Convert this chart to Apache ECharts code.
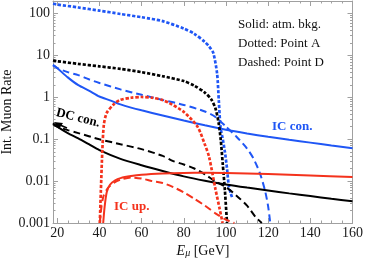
<!DOCTYPE html>
<html><head><meta charset="utf-8">
<script src="https://cdn.jsdelivr.net/npm/echarts@6/dist/echarts.min.js"></script>
<style>html,body{margin:0;padding:0;background:#fff}#c{width:366px;height:263px}</style>
</head><body><div id="c"></div>
<script>
// ---- axis ticks ----
const xTickLabels = [20, 40, 60, 80, 100, 120, 140, 160];
const xMinorTicks = [25,30,35,45,50,55,65,70,75,85,90,95,105,110,115,125,130,135,145,150,155];
const yTickLabels = [0.001, 0.01, 0.1, 1, 10, 100];
const yMinorTicks = [0.002,0.003,0.004,0.005,0.006,0.007,0.008,0.009,
  0.02,0.03,0.04,0.05,0.06,0.07,0.08,0.09,
  0.2,0.3,0.4,0.5,0.6,0.7,0.8,0.9,
  2,3,4,5,6,7,8,9, 20,30,40,50,60,70,80,90];

// ---- IC (blue) ----
const icAtmE    = [18,20,25,30,35,40,45,50,55,60,70,80,90,100,110,120,130,140,150,160];
const icAtmRate = [6.0,5.0,3.0,1.95,1.45,1.05,0.85,0.68,0.57,0.49,0.37,0.28,0.215,0.168,0.137,0.114,0.097,0.083,0.071,0.061];
const icAE      = [18,20,30,40,50,60,70,80,85,90,92,94,95.8,96.6,97.4,98.5,99.5,100.5,101.3,102.3,103];
const icARate   = [172,165,140,118,98,82,66,44,33,21,16.5,11.5,3.7,0.86,0.2,0.1,0.05,0.02,0.008,0.005,0.004];
const icDE      = [18,20,25,30,35,40,50,60,70,80,90,95,100,105,110,113,116,118.5,120,121];
const icDRate   = [5.8,5.0,4.0,3.4,2.7,2.2,1.55,1.15,0.87,0.66,0.46,0.34,0.2,0.115,0.06,0.035,0.016,0.006,0.0025,0.001];

// ---- DC (black) ----
const dcAtmE    = [18,20,25,30,35,40,50,60,70,80,90,100,110,120,130,140,150,160];
const dcAtmRate = [0.24,0.2,0.14,0.105,0.076,0.055,0.034,0.024,0.0175,0.013,0.0102,0.0083,0.007,0.006,0.0051,0.0044,0.0038,0.0033];
const dcAE      = [18,20,30,40,50,60,70,80,85,90,93,95,96.5,97.5,98.5,99.5,100.5];
const dcARate   = [7.6,7.3,6.3,5.5,4.8,4.0,3.2,2.45,1.9,1.3,0.9,0.55,0.25,0.1,0.025,0.006,0.001];
const dcDE      = [18,20,25,30,40,50,60,70,75,80,85,90,95,100,105,110,114,117];
const dcDRate   = [0.23,0.2,0.165,0.14,0.1,0.076,0.058,0.04,0.03,0.025,0.02,0.0145,0.0098,0.0072,0.0045,0.0026,0.0014,0.001];

// ---- IC up (red) ----
const upAtmE    = [41.8,42.5,43.5,45,47.5,50,55,60,70,80,90,100,120,140,160];
const upAtmRate = [0.001,0.0025,0.0055,0.0082,0.0105,0.0118,0.0132,0.0142,0.0152,0.0157,0.0158,0.0157,0.0148,0.0136,0.0125];
const upAE      = [40.2,40.7,41.4,42.1,43.4,46.5,49.6,55,60,65,70,73,80,86.5,90,92,95,97,98.4];
const upARate   = [0.001,0.006,0.056,0.22,0.42,0.66,0.86,0.98,1.02,0.98,0.86,0.74,0.45,0.2,0.075,0.038,0.0065,0.0022,0.001];
const upDE      = [40.2,41,42,44,47,50,55,60,65,70,75,80,85,90,95,100,104];
const upDRate   = [0.001,0.0025,0.0045,0.0068,0.0092,0.0108,0.0122,0.0115,0.01,0.009,0.0072,0.0054,0.0038,0.0026,0.0017,0.0012,0.001];

const X_MIN = 18, X_MAX = 160, Y_MIN = 0.001, Y_MAX = 200;
const BLUE = '#1f56f5', RED = '#f4321c', BLACK = '#000000', FRAME = '#a0a0a0';
const FONT = '"Liberation Serif", "DejaVu Serif", serif';

const zip = (xs, ys) => xs.map((x, i) => [x, ys[i]]);
const SOLID = 'solid', DOTTED = [3.2, 1.8], DASHED = [7, 4];
function line(name, xs, ys, color, type, width) {
  return { name, type: 'line', data: zip(xs, ys), xAxisIndex: 0, yAxisIndex: 0,
    showSymbol: false, smooth: 0.25, animation: false,
    lineStyle: { color, type, width, cap: 'butt' } };
}

const isLabelX = v => xTickLabels.some(t => Math.abs(t - v) < 1e-6);
const isLabelY = v => yTickLabels.some(t => Math.abs(Math.log10(t) - Math.log10(v)) < 1e-6);

function xAx(pos, major) {
  return { type: 'value', min: X_MIN, max: X_MAX, position: pos, splitLine: { show: false },
    axisLine: { show: major, onZero: false, lineStyle: { color: FRAME, width: 1 } },
    axisTick: { show: true, inside: true, length: major ? 5 : 2.5,
      customValues: major ? xTickLabels : xMinorTicks, lineStyle: { color: FRAME } },
    axisLabel: (major && pos === 'bottom') ? { show: true, customValues: xTickLabels, margin: 3,
      fontFamily: FONT, fontSize: 14, color: '#1a1a1a',
      formatter: v => isLabelX(v) ? String(v) : '' } : { show: false } };
}
function yAx(pos, major) {
  return { type: 'log', logBase: 10, min: Y_MIN, max: Y_MAX, position: pos, splitLine: { show: false },
    axisLine: { show: major, onZero: false, lineStyle: { color: FRAME, width: 1 } },
    axisTick: { show: true, inside: true, length: major ? 5 : 2.5,
      customValues: major ? yTickLabels : yMinorTicks, lineStyle: { color: FRAME } },
    axisLabel: (major && pos === 'left') ? { show: true, customValues: yTickLabels, margin: 3,
      fontFamily: FONT, fontSize: 14, color: '#1a1a1a',
      formatter: v => isLabelY(v) ? String(+v.toPrecision(3)) : '' } : { show: false } };
}

const chart = echarts.init(document.getElementById('c'), null, { renderer: 'canvas' });
chart.setOption({
  animation: false,
  backgroundColor: '#ffffff',
  grid: { left: 53, right: 11, top: 1, bottom: 40, containLabel: false },
  xAxis: [xAx('bottom', true), xAx('bottom', false), xAx('top', true), xAx('top', false)],
  yAxis: [yAx('left', true), yAx('left', false), yAx('right', true), yAx('right', false)],
  series: [
    line('IC atm', icAtmE, icAtmRate, BLUE, SOLID, 2),
    line('IC A', icAE, icARate, BLUE, DOTTED, 2.7),
    line('IC D', icDE, icDRate, BLUE, DASHED, 2),
    line('DC atm', dcAtmE, dcAtmRate, BLACK, SOLID, 2),
    line('DC A', dcAE, dcARate, BLACK, DOTTED, 2.7),
    line('DC D', dcDE, dcDRate, BLACK, DASHED, 2),
    line('up atm', upAtmE, upAtmRate, RED, SOLID, 2),
    line('up A', upAE, upARate, RED, DOTTED, 2.7),
    line('up D', upDE, upDRate, RED, DASHED, 2)
  ],
  graphic: [
    { type: 'text', left: 238, top: 18, style: { text: 'Solid: atm. bkg.', font: '13px ' + FONT, fill: '#111' } },
    { type: 'text', left: 238, top: 37, style: { text: 'Dotted: Point A', font: '13px ' + FONT, fill: '#111' } },
    { type: 'text', left: 238, top: 56, style: { text: 'Dashed: Point D', font: '13px ' + FONT, fill: '#111' } },
    { type: 'text', left: 272, top: 120, style: { text: 'IC con.', font: 'bold 13px ' + FONT, fill: BLUE } },
    { type: 'text', left: 114, top: 200, style: { text: 'IC up.', font: 'bold 13px ' + FONT, fill: RED } },
    { type: 'text', x: 78, y: 118, rotation: -0.25,
      style: { text: 'DC con.', font: 'bold 13px ' + FONT, fill: '#000', align: 'center', verticalAlign: 'middle' } },
    { type: 'polygon', shape: { points: [[54, 122], [63, 123], [59, 129]] }, style: { fill: '#000' } },
    { type: 'line', shape: { x1: 60, y1: 125, x2: 67, y2: 128 }, style: { stroke: '#000', lineWidth: 1.5 } },
    { type: 'text', x: 203, y: 251,
      style: { text: '{i|E}{s|μ} [GeV]', align: 'center', verticalAlign: 'middle', font: '14px ' + FONT, fill: '#111',
        rich: { i: { fontFamily: FONT, fontSize: 14, fontStyle: 'italic', fill: '#111' },
                s: { fontFamily: FONT, fontSize: 10, fontStyle: 'italic', fill: '#111', verticalAlign: 'bottom', padding: [5, 0, 0, 0] } } } },
    { type: 'text', x: 7, y: 112, rotation: Math.PI / 2,
      style: { text: 'Int. Muon Rate', align: 'center', verticalAlign: 'middle', font: '14px ' + FONT, fill: '#111' } }
  ]
});
</script></body></html>
